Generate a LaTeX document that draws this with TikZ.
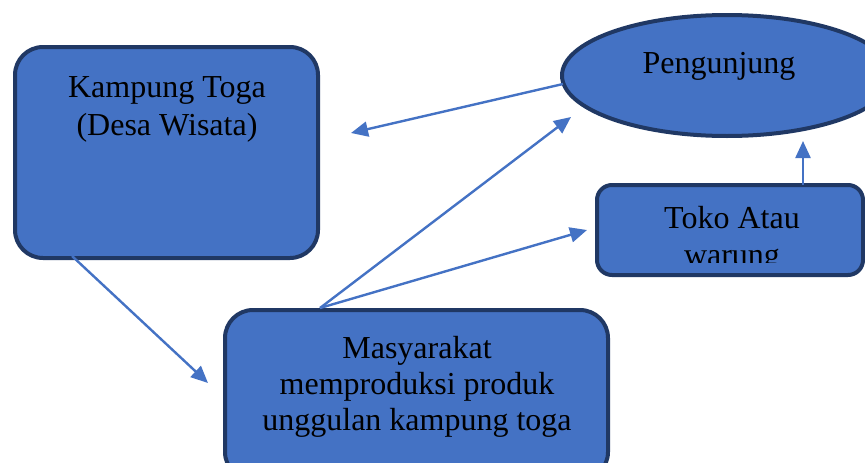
\documentclass[tikz,border=0pt]{standalone}
\usepackage{fontspec}
\setmainfont{Liberation Serif}
\usetikzlibrary{arrows.meta,shapes.geometric}
\definecolor{boxfill}{HTML}{4472C4}
\definecolor{boxline}{HTML}{203864}
\definecolor{arrowc}{HTML}{4472C4}
\begin{document}
\begin{tikzpicture}[x=1pt,y=-1pt,
  shapebox/.style={draw=boxline, fill=boxfill, line width=4pt, rounded corners=#1, inner sep=0pt, rectangle},
  shapeell/.style={draw=boxline, fill=boxfill, line width=4pt, ellipse, inner sep=0pt},
  label text/.style={font=\fontsize{32pt}{38pt}\selectfont, inner sep=0pt, anchor=base, text=black},
  conn/.style={draw=arrowc, line width=2.4pt, -{Triangle[length=17pt,width=15pt]}}]
\useasboundingbox (0,0) rectangle (865,463);
\clip (0,0) rectangle (865,463);
% shapes
\node[shapebox=28pt, minimum width=303pt, minimum height=211pt] (kt) at (166.5,152.5) {};
\node[shapeell, minimum width=330pt, minimum height=121pt] (pg) at (727,75.5) {};
\node[shapebox=15pt, minimum width=266pt, minimum height=90pt] (tk) at (730,230) {};
\node[shapebox=28pt, minimum width=383pt, minimum height=170pt] (ms) at (416.5,395) {};
% texts
\node[label text] (kt1) at (167,97) {Kampung Toga};
\node[label text] (kt2) at (167,135) {(Desa Wisata)};
\node[label text] (pg1) at (719,73) {Pengunjung};
\node[label text] (tk1) at (732,228) {Toko Atau};
\begin{scope}
  \clip (600,240) rectangle (860,262);
  \node[label text] (tk2) at (732,265) {warung};
\end{scope}
\node[label text] (ms1) at (417,358) {Masyarakat};
\node[label text] (ms2) at (417,394) {memproduksi produk};
\node[label text] (ms3) at (417,430) {unggulan kampung toga};
% connector ends
\coordinate (a1s) at (563,84);
\coordinate (a1e) at (351,133);
\coordinate (a2s) at (72,256);
\coordinate (a2e) at (208,383);
\coordinate (a3s) at (320,308);
\coordinate (a3e) at (571,117);
\coordinate (a4e) at (587,230);
\coordinate (a5s) at (803,185);
\coordinate (a5e) at (803,141);
% connectors
\draw[conn] (a1s) -- (a1e);
\draw[conn] (a2s) -- (a2e);
\draw[conn] (a3s) -- (a3e);
\draw[conn] (a3s) -- (a4e);
\draw[conn] (a5s) -- (a5e);
\end{tikzpicture}
\end{document}
